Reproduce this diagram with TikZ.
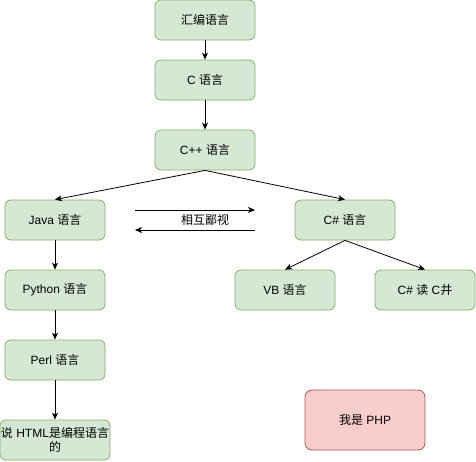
\documentclass[tikz,border=0pt]{standalone}
\usepackage{fontspec}
\setmainfont{Liberation Sans}
\newfontfamily\cjk{Noto Sans CJK SC}
\usetikzlibrary{arrows.meta}
\definecolor{gfill}{HTML}{D5E8D4}
\definecolor{gdraw}{HTML}{82B366}
\definecolor{rfill}{HTML}{F8CECC}
\definecolor{rdraw}{HTML}{B85450}
\begin{document}
\begin{tikzpicture}[x=1pt,y=-1pt,
  gbox/.style={draw=gdraw,fill=gfill,rounded corners=6pt,minimum width=100pt,minimum height=40pt,inner sep=0pt,font=\fontsize{12}{14}\selectfont,line width=0.8pt},
  rbox/.style={draw=rdraw,fill=rfill,rounded corners=7pt,minimum width=120pt,minimum height=60pt,inner sep=0pt,font=\fontsize{12}{14}\selectfont,line width=0.8pt},
  conn/.style={-{Stealth[length=7pt,width=6pt,inset=2pt]},line width=0.8pt}]
\useasboundingbox (0,0) rectangle (476,461);
\node[gbox] (asm) at (205,20) {{\cjk 汇编语言}};
\node[gbox] (c) at (205,80) {C {\cjk 语言}};
\node[gbox] (cpp) at (205,150) {C++ {\cjk 语言}};
\node[gbox] (java) at (55,220) {Java {\cjk 语言}};
\node[gbox] (cs) at (345,220) {C\# {\cjk 语言}};
\node[gbox] (py) at (55,290) {Python {\cjk 语言}};
\node[gbox] (perl) at (55,360) {Perl {\cjk 语言}};
\node[gbox,minimum width=110pt,align=center] (html) at (55,440) {{\cjk 说} HTML{\cjk 是编程语言}\\{\cjk 的}};
\node[gbox] (vb) at (285,290) {VB {\cjk 语言}};
\node[gbox] (csr) at (425,290) {C\# {\cjk 读} C{\cjk 井}};
\node[rbox] (php) at (365,420) {{\cjk 我是} PHP};
\coordinate (a1) at (135,210);
\coordinate (a2) at (255,210);
\coordinate (b1) at (255,230);
\coordinate (b2) at (135,230);
\node[font=\fontsize{12}{14}\selectfont\cjk] (lbl) at (205,220) {相互鄙视};
\draw[conn] (asm) -- (c);
\draw[conn] (c) -- (cpp);
\draw[conn] (cpp.south) -- (java.north);
\draw[conn] (cpp.south) -- (cs.north);
\draw[conn] (java) -- (py);
\draw[conn] (py) -- (perl);
\draw[conn] (perl) -- (html);
\draw[conn] (cs.south) -- (vb.north);
\draw[conn] (cs.south) -- (csr.north);
\draw[conn] (a1) -- (a2);
\draw[conn] (b1) -- (b2);
\end{tikzpicture}
\end{document}
